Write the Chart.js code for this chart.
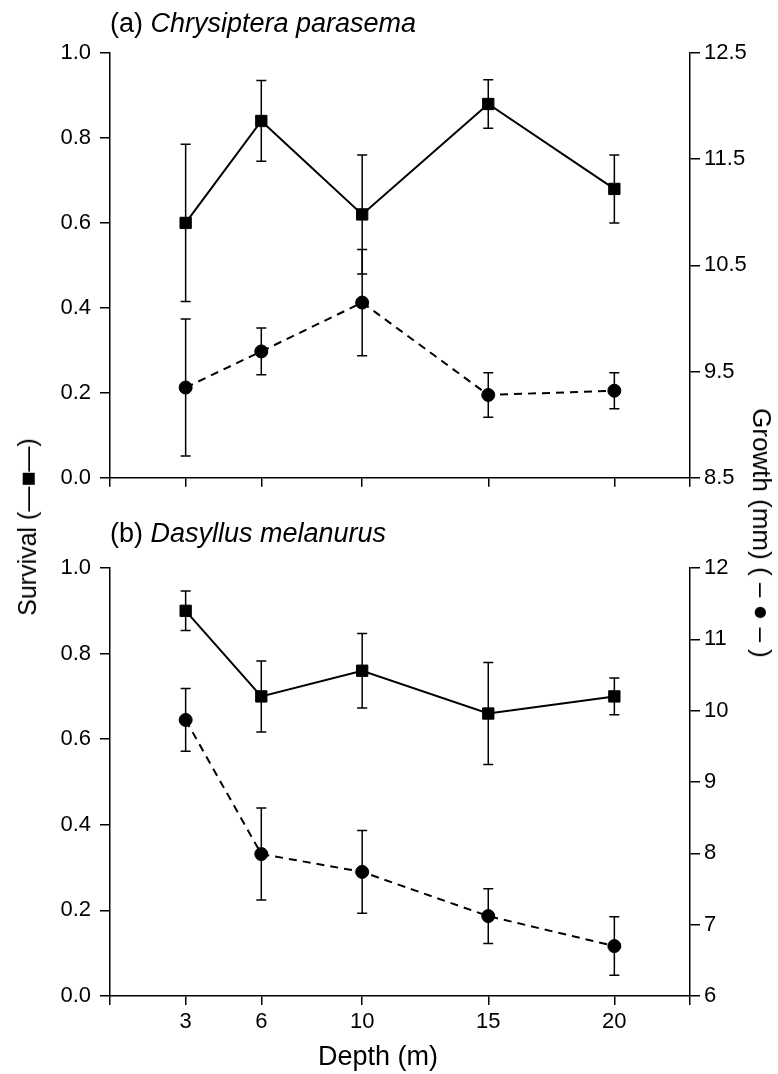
<!doctype html>
<html lang="en">
  <head>
    <title>Survival and growth by depth</title>
    <script src="https://cdn.jsdelivr.net/npm/chart.js"></script>
    <style>
      body { margin: 0; background: #fff; }
      #wrap { position: relative; width: 778px; height: 1074px; font-family: "Liberation Sans", Arial, sans-serif; color: #000; }
      canvas { position: absolute; left: 0; }
      #chartA { top: 0; }
      #chartB { top: 500px; }
      .panel-title { position: absolute; left: 110px; font-size: 27px; line-height: 30px; white-space: nowrap; }
      .side-label { position: absolute; font-size: 25px; line-height: 30px; white-space: nowrap; }
    </style>
  </head>
  <body>
    <div id="wrap">
      <canvas id="chartA" width="778" height="500"></canvas>
      <canvas id="chartB" width="778" height="574"></canvas>
      <div class="panel-title" style="top: 8px">(a) <i>Chrysiptera parasema</i></div>
      <div class="panel-title" style="top: 518px">(b) <i>Dasyllus melanurus</i></div>
      <div class="side-label" style="left: 27px; top: 527px; transform: translate(-50%, -50%) rotate(-90deg)">Survival (—■—)</div>
      <div class="side-label" style="left: 762px; top: 533px; font-size: 26px; transform: translate(-50%, -50%) rotate(90deg)">Growth (mm) ( –&nbsp;●&nbsp;– )</div>
      <div class="side-label" style="left: 378px; top: 1056px; font-size: 27px; transform: translate(-50%, -50%)">Depth (m)</div>
    </div>

    <script>
      // depth (m) on x
      const depths = [3, 6, 10, 15, 20];
      const depthTicks = [0, 3, 6, 10, 15, 20, 23];
      const survivalTicks = [0, 0.2, 0.4, 0.6, 0.8, 1.0];
      const growthTicksA = [8.5, 9.5, 10.5, 11.5, 12.5];
      const growthTicksB = [6, 7, 8, 9, 10, 11, 12];

      // (a) Chrysiptera parasema
      const survivalA = [0.60, 0.84, 0.62, 0.88, 0.68];
      const survivalErrA = [0.185, 0.095, 0.14, 0.057, 0.08];
      const growthA = [9.35, 9.69, 10.15, 9.28, 9.32];
      const growthErrA = [0.645, 0.22, 0.50, 0.21, 0.17];

      // (b) Dasyllus melanurus
      const survivalB = [0.90, 0.70, 0.76, 0.66, 0.70];
      const survivalErrB = [0.046, 0.083, 0.087, 0.119, 0.043];
      const growthB = [9.87, 7.99, 7.74, 7.12, 6.70];
      const growthErrB = [0.44, 0.645, 0.58, 0.385, 0.41];

      Chart.defaults.color = '#000';
      Chart.defaults.font.family = '"Liberation Sans", Arial, sans-serif';

      // draws the +/- bars for every dataset that has an errors array
      const errorBars = {
        id: 'errorBars',
        beforeDatasetsDraw(chart) {
          const ctx = chart.ctx;
          ctx.save();
          ctx.strokeStyle = '#000';
          ctx.lineWidth = 1.5;
          chart.data.datasets.forEach((ds, di) => {
            if (!ds.errors) return;
            const meta = chart.getDatasetMeta(di);
            const yScale = chart.scales[ds.yAxisID];
            meta.data.forEach((pt, i) => {
              const v = ds.data[i].y;
              const top = yScale.getPixelForValue(v + ds.errors[i]);
              const bot = yScale.getPixelForValue(v - ds.errors[i]);
              ctx.beginPath();
              ctx.moveTo(pt.x, top);
              ctx.lineTo(pt.x, bot);
              ctx.moveTo(pt.x - 5, top);
              ctx.lineTo(pt.x + 5, top);
              ctx.moveTo(pt.x - 5, bot);
              ctx.lineTo(pt.x + 5, bot);
              ctx.stroke();
            });
          });
          ctx.restore();
        }
      };

      function toPoints(ys) {
        return depths.map((d, i) => ({ x: d, y: ys[i] }));
      }

      function makePanel(id, p) {
        const axisGrid = { drawOnChartArea: false, color: '#000', lineWidth: 1.5, tickLength: 10 };
        const axisBorder = { color: '#000', width: 1.5 };
        return new Chart(document.getElementById(id), {
          type: 'line',
          data: {
            datasets: [{
              label: 'Survival',
              data: toPoints(p.survival),
              errors: p.survivalErr,
              yAxisID: 'y',
              borderColor: '#000',
              backgroundColor: '#000',
              borderWidth: 2,
              pointStyle: 'rect',
              pointRadius: 8,
              pointBorderWidth: 1
            }, {
              label: 'Growth',
              data: toPoints(p.growth),
              errors: p.growthErr,
              yAxisID: 'y2',
              borderColor: '#000',
              backgroundColor: '#000',
              borderWidth: 2,
              borderDash: [8, 6],
              pointStyle: 'circle',
              pointRadius: 6.5,
              pointBorderWidth: 1
            }]
          },
          options: {
            responsive: false,
            animation: false,
            layout: { padding: { top: p.top, left: 0, right: 0, bottom: 0 } },
            plugins: { legend: { display: false }, tooltip: { enabled: false } },
            scales: {
              x: {
                type: 'linear',
                min: 0,
                max: 23,
                afterBuildTicks: s => { s.ticks = depthTicks.map(v => ({ value: v })); },
                afterFit: s => { s.height = p.xHeight; },
                ticks: {
                  font: { size: 22 },
                  padding: 4,
                  maxRotation: 0,
                  callback: v => (p.showLabels && depths.includes(v)) ? v : ''
                },
                grid: { ...axisGrid, tickLength: 9 },
                border: axisBorder
              },
              y: {
                position: 'left',
                min: 0,
                max: 1,
                afterBuildTicks: s => { s.ticks = survivalTicks.map(v => ({ value: v })); },
                afterFit: s => { s.width = 110; },
                ticks: { font: { size: 22 }, padding: 9, callback: v => v.toFixed(1) },
                grid: axisGrid,
                border: axisBorder
              },
              y2: {
                position: 'right',
                min: p.growthMin,
                max: p.growthMax,
                afterBuildTicks: s => { s.ticks = p.growthTicks.map(v => ({ value: v })); },
                afterFit: s => { s.width = 88; },
                ticks: { font: { size: 22 }, padding: 4, callback: v => String(v) },
                grid: axisGrid,
                border: axisBorder
              }
            }
          },
          plugins: [errorBars]
        });
      }

      makePanel('chartA', {
        survival: survivalA, survivalErr: survivalErrA,
        growth: growthA, growthErr: growthErrA,
        growthMin: 8.5, growthMax: 12.5, growthTicks: growthTicksA,
        top: 53, xHeight: 17, showLabels: false
      });

      makePanel('chartB', {
        survival: survivalB, survivalErr: survivalErrB,
        growth: growthB, growthErr: growthErrB,
        growthMin: 6, growthMax: 12, growthTicks: growthTicksB,
        top: 68, xHeight: 78, showLabels: true
      });
    </script>
  </body>
</html>
